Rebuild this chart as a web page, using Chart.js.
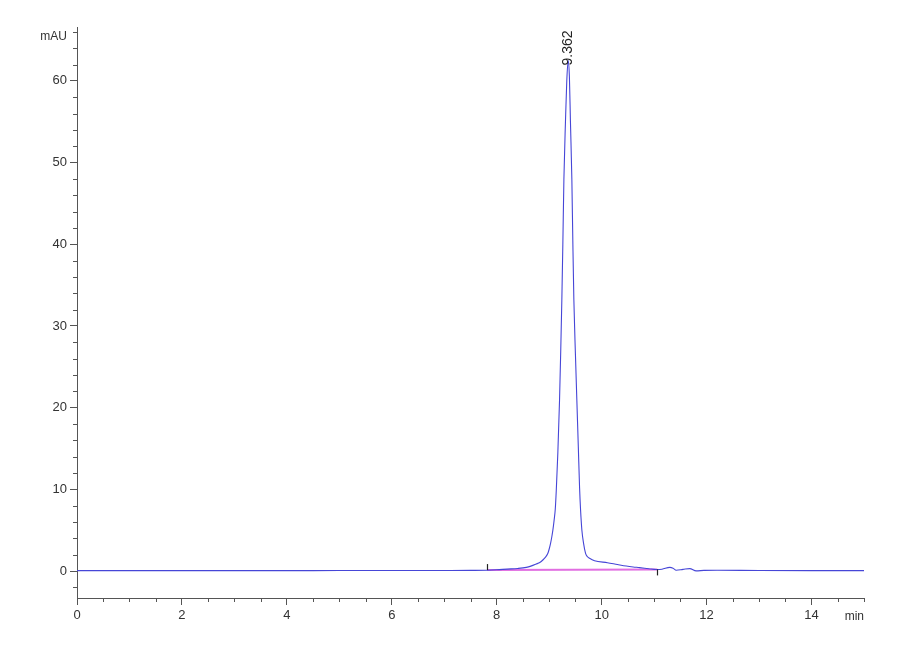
<!DOCTYPE html>
<html>
<head>
<meta charset="utf-8">
<script src="https://cdn.jsdelivr.net/npm/chart.js@4/dist/chart.umd.min.js"></script>
<style>
  html, body { margin: 0; padding: 0; background: #fff; }
  canvas { display: block; }
</style>
</head>
<body>
<canvas id="c" width="900" height="660"></canvas>
<script>
// ---- Data ----
const timeMin = [0, 1, 2, 3, 4, 5, 6, 7, 7.5, 7.82, 8.0, 8.2, 8.4, 8.563, 8.65, 8.753, 8.82, 8.879, 8.93, 8.975, 9.0, 9.026, 9.05, 9.07, 9.095, 9.116, 9.135, 9.165, 9.197, 9.22, 9.241, 9.26, 9.28, 9.31, 9.335, 9.362, 9.385, 9.405, 9.432, 9.45, 9.47, 9.5, 9.527, 9.555, 9.579, 9.598, 9.623, 9.655, 9.693, 9.73, 9.769, 9.864, 10.11, 10.3, 10.47, 10.6, 10.72, 10.9, 11.04, 11.15, 11.3, 11.36, 11.42, 11.55, 11.68, 11.8, 11.95, 12.2, 13, 14, 15];
const absorbance = [0.05, 0.05, 0.05, 0.05, 0.05, 0.06, 0.06, 0.07, 0.08, 0.1, 0.15, 0.24, 0.32, 0.45, 0.6, 0.86, 1.05, 1.35, 1.7, 2.17, 2.7, 3.39, 4.2, 5.0, 6.3, 7.6, 9.9, 14.5, 20.9, 27, 33.2, 40, 47.9, 55, 60, 62.5, 60.5, 55, 47.9, 40.5, 33.2, 26.5, 20.9, 15.2, 10.2, 7.47, 5.0, 3.39, 2.17, 1.75, 1.56, 1.26, 1.02, 0.8, 0.61, 0.5, 0.42, 0.28, 0.18, 0.22, 0.45, 0.35, 0.1, 0.2, 0.3, 0.02, 0.08, 0.1, 0.06, 0.05, 0.05];

const peakTimes = [9.362];
const peakHeights = [62.5];
const peakLabels = ['9.362'];

const integTimes = [7.82, 11.06];
const integValues = [0.12, 0.2];

const xTickLabels = ['0', '2', '4', '6', '8', '10', '12', '14'];
const yTickLabels = ['0', '10', '20', '30', '40', '50', '60'];

const xRange = [0, 15];
const yRange = [-3.3, 66.6];
const xMinorStep = 0.5;
const yMinorStep = 2;

// ---- Styling ----
const FONT = "'Liberation Sans', Arial, sans-serif";
const AXIS = '#555555';
const TEXT = '#333333';

const xMajor = xTickLabels.map(Number);
const yMajor = yTickLabels.map(Number);

const annotations = {
  id: 'annotations',
  afterDraw(chart) {
    const ctx = chart.ctx;
    const xs = chart.scales.x, ys = chart.scales.y;
    const ca = chart.chartArea;
    ctx.save();
    // minor ticks
    ctx.strokeStyle = AXIS;
    ctx.lineWidth = 1;
    for (let v = xRange[0]; v <= xRange[1] + 1e-9; v += xMinorStep) {
      if (xMajor.some(m => Math.abs(m - v) < 1e-6)) continue;
      const px = Math.round(xs.getPixelForValue(v)) + 0.5;
      ctx.beginPath(); ctx.moveTo(px, ca.bottom); ctx.lineTo(px, ca.bottom + 4); ctx.stroke();
    }
    for (let v = Math.ceil(yRange[0] / yMinorStep) * yMinorStep; v <= yRange[1] + 1e-9; v += yMinorStep) {
      if (yMajor.some(m => Math.abs(m - v) < 1e-6)) continue;
      const py = Math.round(ys.getPixelForValue(v)) + 0.5;
      ctx.beginPath(); ctx.moveTo(ca.left, py); ctx.lineTo(ca.left - 4, py); ctx.stroke();
    }
    // integration event marks
    ctx.strokeStyle = '#222';
    ctx.lineWidth = 1.2;
    integTimes.forEach((t, i) => {
      const px = Math.round(xs.getPixelForValue(t)) + 0.5;
      const py = ys.getPixelForValue(integValues[i]);
      ctx.beginPath();
      if (i === 0) { ctx.moveTo(px, py); ctx.lineTo(px, py - 6); }
      else { ctx.moveTo(px, py); ctx.lineTo(px, py + 6); }
      ctx.stroke();
    });
    // peak labels
    ctx.fillStyle = '#222';
    ctx.font = '14px ' + FONT;
    ctx.textAlign = 'left';
    ctx.textBaseline = 'middle';
    peakTimes.forEach((t, i) => {
      const px = xs.getPixelForValue(t);
      const py = ys.getPixelForValue(peakHeights[i]);
      ctx.save();
      ctx.translate(px, py + 5);
      ctx.rotate(-Math.PI / 2);
      ctx.fillText(peakLabels[i], 0, 0);
      ctx.restore();
    });
    // axis unit labels
    ctx.fillStyle = TEXT;
    ctx.font = '12px ' + FONT;
    ctx.textAlign = 'right';
    ctx.textBaseline = 'middle';
    ctx.fillText('mAU', ca.left - 10, ca.top + 10);
    ctx.fillText('min', ca.right, ca.bottom + 19);
    ctx.restore();
  }
};

const trace = timeMin.map((t, i) => ({ x: t, y: absorbance[i] }));
const integLine = integTimes.map((t, i) => ({ x: t, y: integValues[i] }));

new Chart(document.getElementById('c'), {
  type: 'line',
  data: {
    datasets: [
      {
        data: integLine,
        borderColor: 'rgb(225,110,225)',
        borderWidth: 2,
        pointRadius: 0,
        order: 2
      },
      {
        data: trace,
        borderColor: 'rgb(70,70,215)',
        borderWidth: 1.1,
        pointRadius: 0,
        cubicInterpolationMode: 'monotone',
        order: 1
      }
    ]
  },
  options: {
    responsive: false,
    animation: false,
    devicePixelRatio: 1,
    layout: { padding: { left: 0, top: 27, right: 36, bottom: 0 } },
    plugins: { legend: { display: false }, tooltip: { enabled: false } },
    scales: {
      x: {
        type: 'linear',
        min: xRange[0], max: xRange[1],
        afterFit(s) { s.height = 62; },
        afterBuildTicks(s) { s.ticks = xMajor.map(v => ({ value: v })); },
        ticks: {
          callback: (v) => String(v),
          font: { size: 13, family: FONT },
          color: TEXT,
          padding: 3,
          maxRotation: 0,
          autoSkip: false
        },
        grid: { drawOnChartArea: false, drawTicks: true, tickLength: 7, tickColor: AXIS },
        border: { color: AXIS, width: 1 }
      },
      y: {
        type: 'linear',
        min: yRange[0], max: yRange[1],
        afterFit(s) { s.width = 77; },
        afterBuildTicks(s) { s.ticks = yMajor.map(v => ({ value: v })); },
        ticks: {
          callback: (v) => String(v),
          font: { size: 13, family: FONT },
          color: TEXT,
          padding: 3,
          autoSkip: false
        },
        grid: { drawOnChartArea: false, drawTicks: true, tickLength: 7, tickColor: AXIS },
        border: { color: AXIS, width: 1 }
      }
    }
  },
  plugins: [annotations]
});
</script>
</body>
</html>
